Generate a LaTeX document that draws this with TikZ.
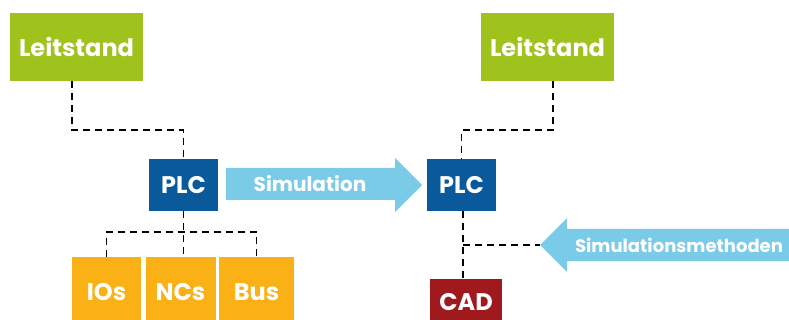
\documentclass[tikz,border=0pt]{standalone}
\usepackage{fontspec}
\setmainfont{Poppins}
\definecolor{leitgreen}{RGB}{159,194,29}
\definecolor{plcblue}{RGB}{10,90,155}
\definecolor{ioorange}{RGB}{249,177,21}
\definecolor{cadred}{RGB}{160,25,28}
\definecolor{simblue}{RGB}{122,203,232}

\begin{document}
\begin{tikzpicture}[x=1pt,y=-1pt,
  box/.style={text=white,inner sep=0pt,font=\bfseries\fontsize{24}{24}\selectfont},
  arrowtext/.style={text=white,inner sep=0pt,font=\bfseries\fontsize{18}{18}\selectfont},
  link/.style={dash pattern=on 7pt off 5pt,line width=1.8pt}]
\clip (0,0) rectangle (789,320);
% left hand
\node[box,fill=leitgreen,minimum width=133pt,minimum height=68pt] (leitL) at (76.5,47) {Leitstand};
\node[box,fill=plcblue,minimum width=69pt,minimum height=52pt] (plcL) at (183.5,185) {PLC};
\node[box,fill=ioorange,minimum width=69pt,minimum height=70pt] (ios) at (106.5,292) {IOs};
\node[box,fill=ioorange,minimum width=70pt,minimum height=70pt] (ncs) at (180.5,292) {NCs};
\node[box,fill=ioorange,minimum width=75pt,minimum height=70pt] (bus) at (256.5,292) {Bus};
\draw[link] ([xshift=-4.5pt]leitL.south) -- ++(0,49) -| (plcL.north);
\draw[link] (plcL.south) -- (plcL.south |- ncs.north);
\draw[link] (ios.north) -- ++(0,-25) -| (bus.north);
% simulation arrow
\fill[simblue] (226,168) -- (395,168) -- (395,158) -- (422,185) -- (395,212) -- (395,200) -- (226,200) -- cycle;
\node[arrowtext,font=\bfseries\fontsize{20}{20}\selectfont] (sim) at (310,184) {Simulation};
% right hand
\node[box,fill=leitgreen,minimum width=133pt,minimum height=68pt] (leitR) at (547.5,47) {Leitstand};
\node[box,fill=plcblue,minimum width=69pt,minimum height=52pt] (plcR) at (461.5,185) {PLC};
\node[box,fill=cadred,minimum width=72pt,minimum height=47pt] (cad) at (466,302.5) {CAD};
\draw[link] ([xshift=5.5pt]leitR.south) -- ++(0,49) -| (plcR.north);
\draw[link] ([xshift=1.5pt]plcR.south) -- ([xshift=1.5pt]plcR.south |- cad.north);
% methods arrow
\coordinate (tip) at (540,245);
\fill[simblue] (tip) -- (567,218) -- (567,229) -- (789,229) -- (789,261) -- (567,261) -- (567,272) -- cycle;
\node[arrowtext] (meth) at (679,245) {Simulationsmethoden};
\draw[link] ([xshift=1.5pt]plcR.south |- tip) -- (tip);
\end{tikzpicture}
\end{document}
